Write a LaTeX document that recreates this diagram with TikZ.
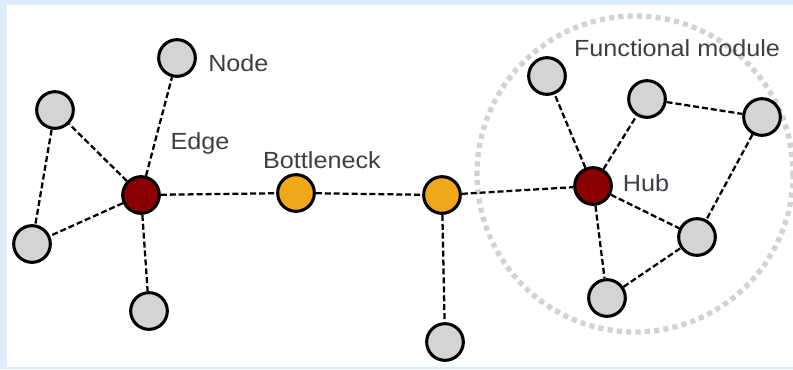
\documentclass[tikz,border=0pt]{standalone}
\usepackage{fontspec}
\setmainfont{Liberation Sans}[FakeStretch=1.08]
\definecolor{framebg}{RGB}{221,236,252}
\definecolor{hubred}{RGB}{138,0,0}
\definecolor{bneck}{RGB}{240,168,24}
\definecolor{plain}{RGB}{212,212,212}
\definecolor{labeltxt}{RGB}{62,62,72}
\definecolor{modring}{RGB}{210,210,210}
\begin{document}
\begin{tikzpicture}[x=0.75pt,y=-0.75pt,
  vertex/.style={circle,draw=black,line width=2.3pt,minimum size=27.5pt,inner sep=0pt},
  plainv/.style={vertex,fill=plain},
  hubv/.style={vertex,fill=hubred},
  neckv/.style={vertex,fill=bneck},
  link/.style={draw=black,line width=1.7pt,dash pattern=on 4.5pt off 2.2pt},
  tag/.style={text=labeltxt,font=\fontsize{17.5}{20}\selectfont,inner sep=0pt}]
  % frame
  \fill[framebg] (0,0) rectangle (793,369);
  \fill[white] (7,5) rectangle (793,367);
  \useasboundingbox (0,0) rectangle (793,369);
  % module ring
  \draw[modring,line width=4pt,dash pattern=on 3.8pt off 3.2pt] (635,174) circle [radius=158];
  % vertices
  \node[plainv] (n1) at (177,58) {};
  \node[plainv] (l1) at (55,110) {};
  \node[plainv] (l2) at (32,244) {};
  \node[hubv]   (e)  at (141,195) {};
  \node[plainv] (l3) at (149,311) {};
  \node[neckv]  (b1) at (296,193) {};
  \node[neckv]  (b2) at (442,195) {};
  \node[plainv] (l4) at (445,342) {};
  \node[hubv]   (h)  at (593,186) {};
  \node[plainv] (m1) at (547,76) {};
  \node[plainv] (m2) at (647,99) {};
  \node[plainv] (m3) at (762,117) {};
  \node[plainv] (m4) at (697,237) {};
  \node[plainv] (m5) at (607,298) {};
  % links
  \path[link] (e) -- (n1);
  \path[link] (e) -- (l1);
  \path[link] (e) -- (l2);
  \path[link] (l1) -- (l2);
  \path[link] (e) -- (l3);
  \path[link] (e) -- (b1);
  \path[link] (b1) -- (b2);
  \path[link] (b2) -- (l4);
  \path[link] (b2) -- (h);
  \path[link] (h) -- (m1);
  \path[link] (h) -- (m2);
  \path[link] (m2) -- (m3);
  \path[link] (m3) -- (m4);
  \path[link] (h) -- (m4);
  \path[link] (h) -- (m5);
  \path[link] (m5) -- (m4);
  % labels
  \node[tag,anchor=west] (tnode) at (208,63) {Node};
  \node[tag] (tedge) at (200,143) {Edge};
  \node[tag] (tneck) at (322,160) {Bottleneck};
  \node[tag] (tmod) at (677,48) {Functional module};
  \node[tag] (thub) at (646,183) {Hub};
\end{tikzpicture}
\end{document}
